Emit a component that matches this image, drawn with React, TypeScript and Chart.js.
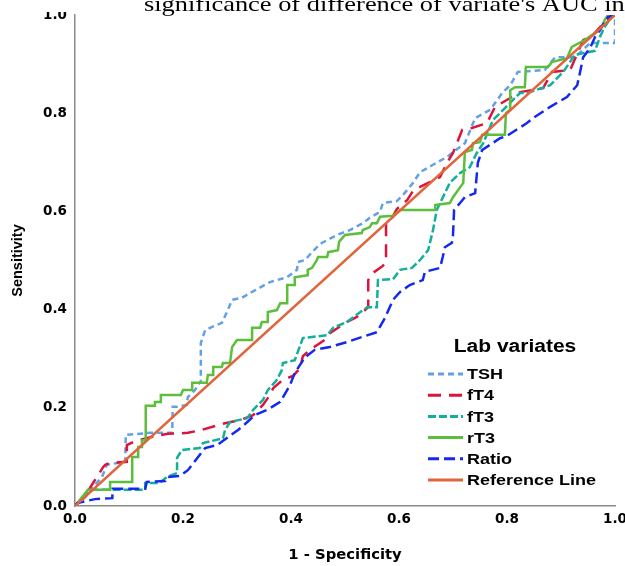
import React, { useEffect, useRef } from 'react';
import { Chart, registerables } from 'chart.js';

Chart.register(...registerables);

// ---- data (values in axis units: [1 - Specificity, Sensitivity]) ----
const SERIES_LABELS = ['TSH', 'fT4', 'fT3', 'rT3', 'Ratio', 'Reference Line'];

const TSH_POINTS: number[][] = [
  [0, 0], [0.019, 0.018], [0.037, 0.043], [0.05, 0.059], [0.059, 0.084], [0.093, 0.09], [0.094, 0.145],
  [0.139, 0.149], [0.18, 0.149], [0.181, 0.202], [0.189, 0.202], [0.207, 0.206], [0.209, 0.222],
  [0.222, 0.236], [0.231, 0.251], [0.233, 0.251], [0.233, 0.332], [0.241, 0.358], [0.254, 0.365],
  [0.272, 0.373], [0.283, 0.399], [0.291, 0.42], [0.309, 0.424], [0.328, 0.436], [0.361, 0.456],
  [0.393, 0.466], [0.411, 0.481], [0.413, 0.497], [0.426, 0.501], [0.439, 0.517], [0.454, 0.534],
  [0.485, 0.552], [0.509, 0.562], [0.533, 0.576], [0.546, 0.587], [0.565, 0.599], [0.57, 0.617],
  [0.596, 0.621], [0.607, 0.633], [0.626, 0.658], [0.639, 0.68], [0.663, 0.695], [0.689, 0.711],
  [0.722, 0.739], [0.741, 0.79], [0.769, 0.807], [0.791, 0.841], [0.806, 0.857], [0.82, 0.884],
  [0.87, 0.888], [0.889, 0.914], [0.926, 0.914], [0.954, 0.943], [1, 0.943], [1, 1],
];

const FT4_POINTS: number[][] = [
  [0, 0], [0.019, 0.022], [0.037, 0.053], [0.041, 0.059], [0.052, 0.079], [0.056, 0.084], [0.065, 0.088],
  [0.096, 0.09], [0.096, 0.124], [0.111, 0.132], [0.143, 0.141], [0.172, 0.147], [0.209, 0.149],
  [0.235, 0.155], [0.272, 0.167], [0.306, 0.175], [0.33, 0.185], [0.348, 0.206], [0.361, 0.226],
  [0.367, 0.24], [0.385, 0.257], [0.404, 0.265], [0.417, 0.281], [0.422, 0.305], [0.435, 0.318],
  [0.454, 0.332], [0.467, 0.342], [0.472, 0.352], [0.504, 0.375], [0.522, 0.385], [0.533, 0.395],
  [0.543, 0.405], [0.543, 0.46], [0.552, 0.475], [0.57, 0.489], [0.576, 0.497], [0.576, 0.574],
  [0.583, 0.578], [0.596, 0.605], [0.615, 0.623], [0.626, 0.642], [0.639, 0.65], [0.676, 0.67],
  [0.689, 0.699], [0.7, 0.719], [0.717, 0.766], [0.735, 0.77], [0.763, 0.78], [0.778, 0.813],
  [0.806, 0.831], [0.824, 0.843], [0.867, 0.851], [0.883, 0.884], [0.917, 0.888], [0.941, 0.949],
  [0.959, 0.959], [0.981, 0.986], [1, 1],
];

const FT3_POINTS: number[][] = [
  [0, 0], [0.019, 0.022], [0.033, 0.033], [0.13, 0.033], [0.13, 0.047], [0.157, 0.047], [0.17, 0.059],
  [0.189, 0.067], [0.189, 0.098], [0.198, 0.114], [0.231, 0.118], [0.237, 0.128], [0.274, 0.138],
  [0.278, 0.155], [0.287, 0.171], [0.319, 0.179], [0.33, 0.196], [0.348, 0.216], [0.357, 0.236],
  [0.374, 0.257], [0.383, 0.277], [0.385, 0.291], [0.407, 0.297], [0.422, 0.342], [0.467, 0.348],
  [0.478, 0.363], [0.504, 0.375], [0.531, 0.397], [0.541, 0.405], [0.559, 0.405], [0.561, 0.46],
  [0.589, 0.462], [0.602, 0.481], [0.624, 0.485], [0.639, 0.501], [0.654, 0.521], [0.663, 0.562],
  [0.67, 0.603], [0.694, 0.658], [0.713, 0.678], [0.731, 0.69], [0.744, 0.719], [0.756, 0.739],
  [0.774, 0.786], [0.793, 0.807], [0.824, 0.841], [0.837, 0.841], [0.88, 0.857], [0.904, 0.884],
  [0.926, 0.919], [0.963, 0.927], [0.972, 0.955], [0.981, 0.976], [0.996, 1], [1, 1],
];

const RT3_POINTS: number[][] = [
  [0, 0], [0.024, 0.033], [0.065, 0.033], [0.065, 0.049], [0.106, 0.049], [0.106, 0.1], [0.117, 0.1],
  [0.117, 0.12], [0.124, 0.12], [0.124, 0.134], [0.131, 0.134], [0.131, 0.204], [0.148, 0.204],
  [0.148, 0.212], [0.159, 0.212], [0.159, 0.226], [0.196, 0.226], [0.2, 0.236], [0.217, 0.236],
  [0.217, 0.251], [0.244, 0.251], [0.246, 0.267], [0.256, 0.267], [0.256, 0.283], [0.272, 0.283],
  [0.274, 0.291], [0.287, 0.291], [0.291, 0.324], [0.3, 0.338], [0.328, 0.338], [0.328, 0.363],
  [0.343, 0.363], [0.346, 0.375], [0.357, 0.375], [0.357, 0.395], [0.374, 0.399], [0.38, 0.413],
  [0.393, 0.413], [0.393, 0.45], [0.407, 0.45], [0.407, 0.466], [0.43, 0.47], [0.431, 0.481],
  [0.439, 0.485], [0.448, 0.501], [0.45, 0.507], [0.467, 0.507], [0.469, 0.517], [0.487, 0.521],
  [0.489, 0.538], [0.5, 0.552], [0.531, 0.556], [0.533, 0.562], [0.546, 0.568], [0.55, 0.576],
  [0.559, 0.576], [0.565, 0.589], [0.589, 0.591], [0.602, 0.603], [0.667, 0.603], [0.667, 0.613],
  [0.694, 0.617], [0.7, 0.629], [0.719, 0.658], [0.722, 0.721], [0.735, 0.725], [0.737, 0.739],
  [0.75, 0.741], [0.754, 0.756], [0.796, 0.756], [0.798, 0.8], [0.806, 0.807], [0.806, 0.847],
  [0.815, 0.853], [0.833, 0.853], [0.835, 0.894], [0.876, 0.894], [0.883, 0.904], [0.911, 0.912],
  [0.92, 0.935], [0.944, 0.949], [0.957, 0.959], [0.972, 0.969], [0.981, 0.99], [0.987, 1], [1, 1],
];

const RATIO_POINTS: number[][] = [
  [0, 0], [0.004, 0.006], [0.037, 0.014], [0.069, 0.016], [0.07, 0.035], [0.13, 0.035], [0.133, 0.049],
  [0.167, 0.051], [0.17, 0.059], [0.194, 0.061], [0.209, 0.073], [0.241, 0.118], [0.263, 0.124],
  [0.302, 0.155], [0.315, 0.167], [0.333, 0.185], [0.356, 0.196], [0.38, 0.212], [0.398, 0.246],
  [0.407, 0.271], [0.426, 0.303], [0.444, 0.318], [0.472, 0.324], [0.504, 0.334], [0.531, 0.344],
  [0.559, 0.354], [0.574, 0.383], [0.589, 0.42], [0.602, 0.436], [0.62, 0.45], [0.644, 0.46],
  [0.648, 0.477], [0.676, 0.485], [0.681, 0.507], [0.685, 0.527], [0.698, 0.536], [0.7, 0.552],
  [0.702, 0.603], [0.713, 0.617], [0.722, 0.629], [0.741, 0.637], [0.746, 0.699], [0.754, 0.725],
  [0.787, 0.749], [0.8, 0.754], [0.837, 0.78], [0.848, 0.79], [0.88, 0.813], [0.911, 0.833],
  [0.93, 0.857], [0.935, 0.882], [0.941, 0.914], [0.954, 0.933], [0.963, 0.955], [0.972, 0.969],
  [0.981, 0.986], [0.987, 0.996], [1, 1],
];

const REF_POINTS: number[][] = [[0, 0], [1, 1]];

const AXIS_MIN = 0;
const AXIS_MAX = 1;
const TICK_STEP = 0.2;

const CHART_TITLE = "significance of difference of variate's AUC in";
const LEGEND_TITLE = 'Lab variates';
const X_TITLE = '1 - Specificity';
const Y_TITLE = 'Sensitivity';

// ---- styles ----
const STYLES = [
  { color: '#64A0E6', dash: [6, 4], width: 2.5, order: 5 },
  { color: '#DC143C', dash: [13, 8], width: 2.5, order: 4 },
  { color: '#13AE9C', dash: [8, 3], width: 2.5, order: 3 },
  { color: '#5CBF3B', dash: [], width: 2.5, order: 2 },
  { color: '#1428F0', dash: [11, 5], width: 2.5, order: 1 },
  { color: '#E0643C', dash: [], width: 2.5, order: 0 },
];

const ALL_POINTS = [TSH_POINTS, FT4_POINTS, FT3_POINTS, RT3_POINTS, RATIO_POINTS, REF_POINTS];

const overlayPlugin = {
  id: 'overlay',
  afterDraw(chart: any) {
    const ctx = chart.ctx as CanvasRenderingContext2D;
    const area = chart.chartArea;
    ctx.save();
    // title box
    ctx.fillStyle = '#ffffff';
    ctx.fillRect(0, 0, chart.width, 12);
    ctx.fillStyle = '#000000';
    ctx.font = '22px "Liberation Serif"';
    ctx.textAlign = 'left';
    ctx.textBaseline = 'alphabetic';
    ctx.save();
    ctx.translate(144, 11);
    ctx.scale(1.2, 1);
    ctx.fillText(CHART_TITLE, 0, 0);
    ctx.restore();

    // legend
    const lx0 = area.left + 353;
    const lx1 = area.left + 388;
    const tx = area.left + 392;
    const rowY0 = area.top + 359;
    const rowGap = 21.2;
    ctx.save();
    ctx.font = 'bold 17.5px "Liberation Sans"';
    ctx.textAlign = 'center';
    ctx.textBaseline = 'middle';
    ctx.translate(area.left + 440, area.top + 332);
    ctx.scale(1.2, 1);
    ctx.fillText(LEGEND_TITLE, 0, 0);
    ctx.restore();

    SERIES_LABELS.forEach((label, i) => {
      const y = rowY0 + i * rowGap;
      const st = STYLES[i];
      ctx.save();
      ctx.strokeStyle = st.color;
      ctx.lineWidth = 3;
      ctx.setLineDash(st.dash);
      ctx.beginPath();
      ctx.moveTo(lx0, y);
      ctx.lineTo(lx1, y);
      ctx.stroke();
      ctx.restore();
      ctx.save();
      ctx.fillStyle = '#000000';
      ctx.font = 'bold 15px "Liberation Sans"';
      ctx.textAlign = 'left';
      ctx.textBaseline = 'middle';
      ctx.translate(tx, y + 1);
      ctx.scale(1.2, 1);
      ctx.fillText(label, 0, 0);
      ctx.restore();
    });
    ctx.restore();
  },
};

export default function App() {
  const ref = useRef<HTMLCanvasElement>(null);

  useEffect(() => {
    document.body.style.margin = '0';
    if (!ref.current) return;
    const datasets = SERIES_LABELS.map((label, i) => ({
      label,
      data: ALL_POINTS[i].map(([x, y]) => ({ x, y })),
      borderColor: STYLES[i].color,
      backgroundColor: STYLES[i].color,
      borderWidth: STYLES[i].width,
      borderDash: STYLES[i].dash,
      pointRadius: 0,
      tension: 0,
      fill: false,
      order: STYLES[i].order,
    }));

    const tickFont = { family: '"DejaVu Sans"', weight: 'bold' as const, size: 13.5 };

    const chart = new Chart(ref.current, {
      type: 'line',
      data: { datasets },
      options: {
        animation: false,
        responsive: false,
        maintainAspectRatio: false,
        devicePixelRatio: 1,
        layout: { padding: { top: 15, right: 10, bottom: 0, left: 0 } },
        plugins: {
          legend: { display: false },
          tooltip: { enabled: false },
          title: { display: false },
        },
        scales: {
          x: {
            type: 'linear',
            min: AXIS_MIN,
            max: AXIS_MAX,
            ticks: {
              stepSize: TICK_STEP,
              callback: (v: any) => Number(v).toFixed(1),
              font: tickFont,
              color: '#000',
              padding: 5,
              maxRotation: 0,
              autoSkip: false,
            },
            grid: { display: false, drawTicks: false },
            border: { display: true, color: '#8a8a8a', width: 1.5 },
            title: {
              display: true,
              text: X_TITLE,
              color: '#000',
              font: { family: '"DejaVu Sans"', weight: 'bold', size: 14.8 },
              padding: { top: 0, bottom: 2 },
            },
            afterFit: (s: any) => {
              s.height = 60;
              s.paddingLeft = 0;
              s.paddingRight = 0;
            },
          },
          y: {
            type: 'linear',
            min: AXIS_MIN,
            max: AXIS_MAX,
            ticks: {
              stepSize: TICK_STEP,
              callback: (v: any) => Number(v).toFixed(1),
              font: tickFont,
              color: '#000',
              padding: 8,
              autoSkip: false,
            },
            grid: { display: false, drawTicks: false },
            border: { display: true, color: '#8a8a8a', width: 1.5 },
            title: {
              display: true,
              text: Y_TITLE,
              color: '#000',
              font: { family: '"Liberation Sans"', weight: 'bold', size: 14.5 },
              padding: { top: 9, bottom: 0 },
            },
            afterFit: (s: any) => {
              s.width = 75;
              s.paddingTop = 0;
              s.paddingBottom = 0;
            },
          },
        },
      },
      plugins: [overlayPlugin],
    });
    return () => chart.destroy();
  }, []);

  return (
    <canvas
      ref={ref}
      width={625}
      height={566}
      style={{ display: 'block', width: 625, height: 566 }}
    />
  );
}
